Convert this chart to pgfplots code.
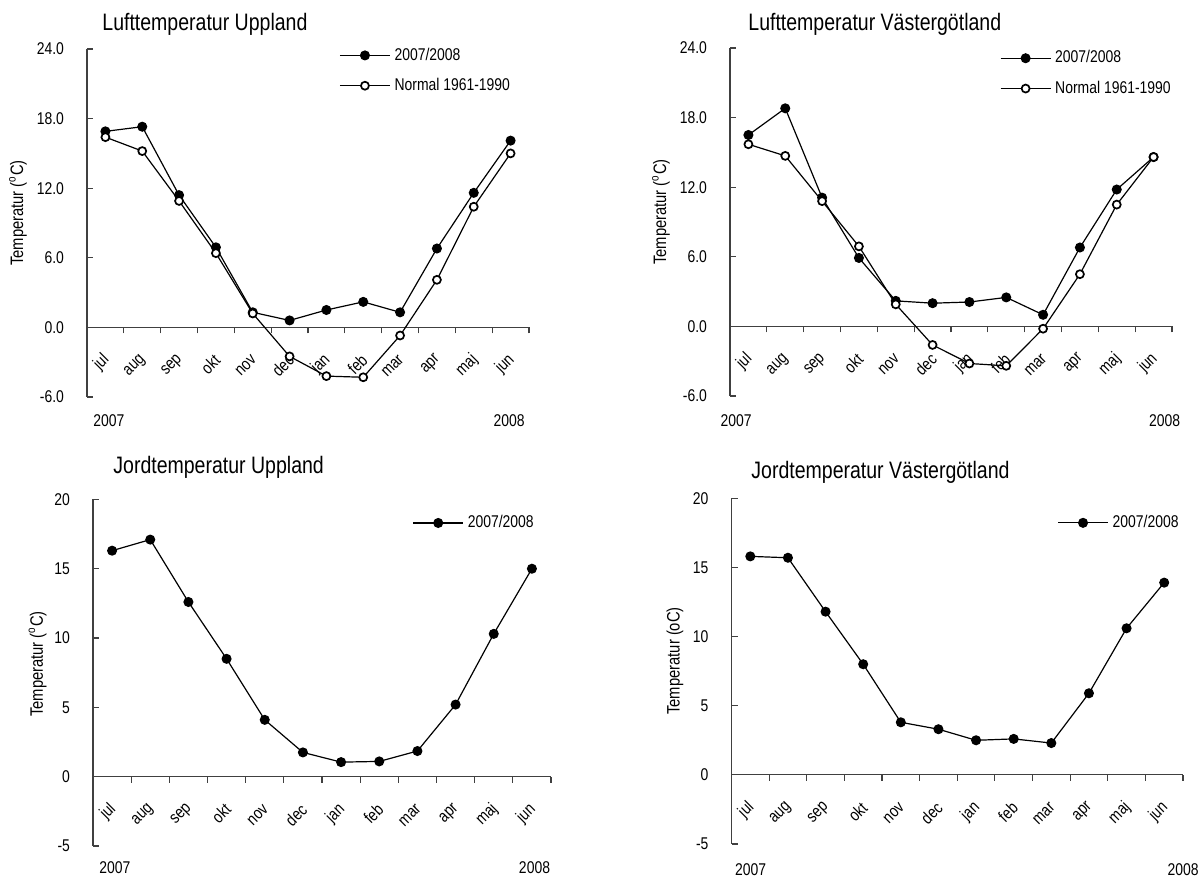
\documentclass[border=0pt]{standalone}
\usepackage{fontspec}
\setmainfont{Liberation Sans}[FakeStretch=0.82]
\usepackage{pgfplots}
\pgfplotsset{compat=1.18}
\definecolor{axgray}{gray}{0.25}
\pgfplotsset{
 base/.style={
  scale only axis, anchor=south west, clip=false,
  axis x line=middle, axis y line=left,
  axis line style={-, draw=axgray, line width=0.6pt},
  xmin=0.5, xmax=12.5,
  xtick={1,...,12},
  xticklabels={jul,aug,sep,okt,nov,dec,jan,feb,mar,apr,maj,jun},
  major x tick style={draw=none},
  minor xtick={1.5,2.5,...,12.5},
  tick align=inside, major tick length=3pt, minor tick length=3pt,
  minor x tick style={yshift=-3pt},
  tick style={axgray, line width=0.6pt},
  hide obscured x ticks=false, hide obscured y ticks=false,
  /pgf/number format/assume math mode=true,
  xticklabel style={font=\fontsize{8.5}{10}\selectfont, xshift=0.7pt, yshift=-15pt, rotate=45, anchor=east, inner sep=0pt},
  yticklabel style={font=\fontsize{8.5}{10}\selectfont, xshift=-8pt},
  legend style={draw=none, fill=none, anchor=west, inner sep=0pt,
    nodes={inner sep=2pt}, row sep=3.5pt, cells={anchor=west},
    font=\fontsize{8.5}{10}\selectfont},
  legend image code/.code={\draw[mark repeat=2,mark phase=2,##1] plot coordinates {(0pt,0pt)(12.5pt,0pt)(25pt,0pt)};},
 },
 filled/.style={black, line width=0.6pt, mark=*, mark size=2.2pt, mark options={fill=black, solid}},
 open/.style={black, line width=0.6pt, mark=*, mark size=2.0pt, mark options={fill=white, draw=black, line width=0.85pt, solid}},
 airy/.style={ymin=-6, ymax=24, ytick={-6,0,...,24},
  yticklabel style={/pgf/number format/.cd, fixed, fixed zerofill, precision=1}},
 soil/.style={ymin=-5, ymax=20, ytick={-5,0,...,20}},
}
\begin{document}
\begin{tikzpicture}[x=1pt,y=1pt]
\useasboundingbox (0,0) rectangle (600,438.5);

% ---------- Panel 1 ----------
\begin{axis}[base, airy, at={(43.5pt,240pt)}, width=221pt, height=174pt,
  legend style={at={(0.570,0.938)}}]
\addplot[filled] coordinates {(1,16.9)(2,17.3)(3,11.4)(4,6.9)(5,1.3)(6,0.6)(7,1.5)(8,2.2)(9,1.3)(10,6.8)(11,11.6)(12,16.1)};
\addlegendentry{2007/2008}
\addplot[open] coordinates {(1,16.4)(2,15.2)(3,10.9)(4,6.4)(5,1.2)(6,-2.5)(7,-4.2)(8,-4.3)(9,-0.7)(10,4.1)(11,10.4)(12,15.0)};
\addlegendentry{Normal 1961-1990}
\end{axis}

% ---------- Panel 2 ----------
\begin{axis}[base, airy, at={(365pt,240.5pt)}, width=221pt, height=174pt,
  legend style={at={(0.610,0.927)}}]
\addplot[filled] coordinates {(1,16.5)(2,18.8)(3,11.1)(4,5.9)(5,2.2)(6,2.0)(7,2.1)(8,2.5)(9,1.0)(10,6.8)(11,11.8)(12,14.6)};
\addlegendentry{2007/2008}
\addplot[open] coordinates {(1,15.7)(2,14.7)(3,10.8)(4,6.9)(5,1.9)(6,-1.6)(7,-3.2)(8,-3.4)(9,-0.2)(10,4.5)(11,10.5)(12,14.6)};
\addlegendentry{Normal 1961-1990}
\end{axis}

% ---------- Panel 3 ----------
\begin{axis}[base, soil, at={(46.5pt,15.5pt)}, width=229pt, height=173.3pt,
  legend style={at={(0.697,0.932)}}]
\addplot[filled] coordinates {(1,16.3)(2,17.1)(3,12.6)(4,8.5)(5,4.1)(6,1.75)(7,1.05)(8,1.1)(9,1.85)(10,5.2)(11,10.3)(12,15.0)};
\addlegendentry{2007/2008}
\end{axis}

% ---------- Panel 4 ----------
\begin{axis}[base, soil, at={(365.75pt,16.5pt)}, width=225.75pt, height=172.85pt,
  legend style={at={(0.721,0.929)}}]
\addplot[filled] coordinates {(1,15.8)(2,15.7)(3,11.8)(4,8.0)(5,3.8)(6,3.3)(7,2.5)(8,2.6)(9,2.3)(10,5.9)(11,10.6)(12,13.9)};
\addlegendentry{2007/2008}
\end{axis}

% ---------- Titles ----------
\begin{scope}[every node/.style={font=\fontsize{11.9}{14}\selectfont, anchor=west, inner sep=0pt}]
\node at (51,426.5) {Lufttemperatur Uppland};
\node at (374,426.5) {Lufttemperatur Västergötland};
\node at (56.5,205) {Jordtemperatur Uppland};
\node at (375.5,202.5) {Jordtemperatur Västergötland};
\end{scope}

% ---------- Y labels ----------
\begin{scope}[every node/.style={font=\fontsize{9}{11}\selectfont, rotate=90, inner sep=0pt}]
\node at (9,332) {Temperatur (\textsuperscript{o}C)};
\node at (330.5,332.5) {Temperatur (\textsuperscript{o}C)};
\node at (18.8,106.5) {Temperatur (\textsuperscript{o}C)};
\node at (337.5,108) {Temperatur (oC)};
\end{scope}

% ---------- Year labels ----------
\begin{scope}[every node/.style={font=\fontsize{8.5}{10}\selectfont, inner sep=0pt}]
\node at (54.5,228) {2007};
\node at (254.5,228) {2008};
\node at (368,228) {2007};
\node at (582.25,228) {2008};
\node at (57.5,4.5) {2007};
\node at (267.25,4.5) {2008};
\node at (375.25,3.5) {2007};
\node at (591.5,3.5) {2008};
\end{scope}
\end{tikzpicture}
\end{document}
